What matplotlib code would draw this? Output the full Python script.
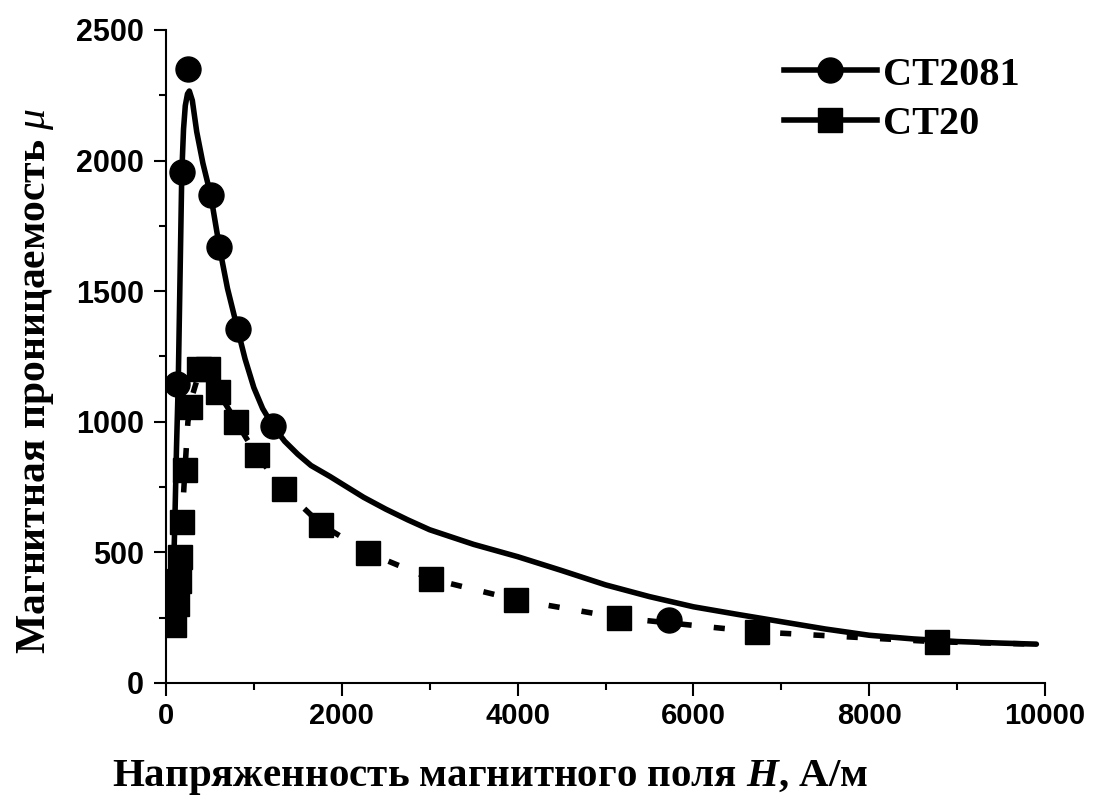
import numpy as np
from matplotlib import pyplot as plt
from matplotlib.ticker import MultipleLocator

plt.rcParams['mathtext.fontset'] = 'custom'
plt.rcParams['mathtext.it'] = 'Liberation Serif:italic'
plt.rcParams['mathtext.bfit'] = 'Liberation Serif:italic:bold'
plt.rcParams['mathtext.rm'] = 'Liberation Serif'

# CT2081 - smooth curve
h_2081_line = [70, 100, 120, 140, 160, 180, 200, 220, 245, 266, 300, 350, 420, 510, 608, 700,
               814, 900, 1000, 1100, 1217, 1350, 1500, 1650, 1866, 2000, 2250, 2500, 2750,
               3000, 3500, 4000, 4500, 5000, 5500, 6000, 6500, 7000, 7500, 8000, 8500, 9000,
               9500, 9900]
mu_2081_line = [230, 600, 900, 1150, 1550, 1950, 2120, 2210, 2255, 2266, 2230, 2110, 1990, 1866,
                1669, 1510, 1355, 1240, 1130, 1050, 984, 925, 875, 832, 790, 762, 710, 665, 624,
                586, 530, 483, 430, 375, 330, 291, 262, 234, 206, 182, 168, 158, 152, 148]
# CT2081 markers
h_2081_pts = [84, 129, 179, 255, 510, 608, 814, 1217, 5720]
mu_2081_pts = [226, 1145, 1956, 2350, 1866, 1669, 1355, 984, 240]

# CT20 line
h_20_line = [90, 120, 160, 182, 216, 250, 300, 380, 478, 597, 798, 1034, 1338, 1768, 2298,
             3015, 3982, 5154, 6724, 8771, 9900]
mu_20_line = [220, 300, 483, 617, 816, 1000, 1100, 1190, 1195, 1113, 1000, 871, 742, 605, 498,
              398, 318, 249, 195, 157, 148]
# CT20 markers
h_20_pts = [95, 125, 145, 160, 182, 216, 270, 380, 478, 597, 798, 1034, 1338, 1768, 2298,
            3015, 3982, 5154, 6724, 8771]
mu_20_pts = [220, 300, 390, 483, 617, 816, 1056, 1200, 1200, 1113, 1000, 871, 742, 605, 498,
             398, 318, 249, 195, 157]

fig = plt.figure(figsize=(10.99, 8.09), dpi=100)
ax = fig.add_axes([0.151, 0.156, 0.80, 0.807])

ax.plot(h_2081_line, mu_2081_line, color='black', linewidth=4, solid_capstyle='round')
ax.plot(h_2081_pts, mu_2081_pts, 'o', color='black', markersize=18)
ax.plot(h_20_line, mu_20_line, color='black', linewidth=4, linestyle=(0, (2, 4)))
ax.plot(h_20_pts, mu_20_pts, 's', color='black', markersize=17)

# legend entries
ax.plot([], [], '-o', color='black', linewidth=4, markersize=18, label='CT2081')
ax.plot([], [], '-s', color='black', linewidth=4, markersize=17, label='CT20')
handles, labels = ax.get_legend_handles_labels()
ax.legend(handles, labels, loc='upper right', frameon=False, handlelength=2.3,
          prop={'family': 'Liberation Serif', 'weight': 'bold', 'size': 29},
          bbox_to_anchor=(1.012, 1.015), labelspacing=0.3, handletextpad=0.15)

ax.set_xlim(0, 10000)
ax.set_ylim(0, 2500)
ax.xaxis.set_major_locator(MultipleLocator(2000))
ax.xaxis.set_minor_locator(MultipleLocator(1000))
ax.yaxis.set_major_locator(MultipleLocator(500))
ax.yaxis.set_minor_locator(MultipleLocator(250))
ax.tick_params(which='major', direction='out', length=9, width=1.5)
ax.tick_params(which='minor', direction='out', length=5, width=1.5)
ax.tick_params(axis='y', which='major', pad=7)
ax.tick_params(axis='x', which='major', pad=5)
for lab in ax.get_xticklabels():
    lab.set_family('Liberation Sans')
    lab.set_weight('bold')
    lab.set_fontsize(21)
for lab in ax.get_yticklabels():
    lab.set_family('Liberation Sans')
    lab.set_weight('bold')
    lab.set_fontsize(22)

ax.spines['top'].set_visible(False)
ax.spines['right'].set_visible(False)
ax.spines['left'].set_linewidth(1.5)
ax.spines['bottom'].set_linewidth(1.5)

ax.set_xlabel('Напряженность магнитного поля $\\mathbfit{H}$, А/м',
              fontfamily='Liberation Serif', fontweight='bold', fontsize=29.5)
ax.set_ylabel('Магнитная проницаемость $\\mathit{\\mu}$',
              fontfamily='Liberation Serif', fontweight='bold', fontsize=30)
ax.xaxis.set_label_coords(0.369, -0.115)
ax.yaxis.set_label_coords(-0.125, 0.462)

fig.savefig('out.png', dpi=100)
